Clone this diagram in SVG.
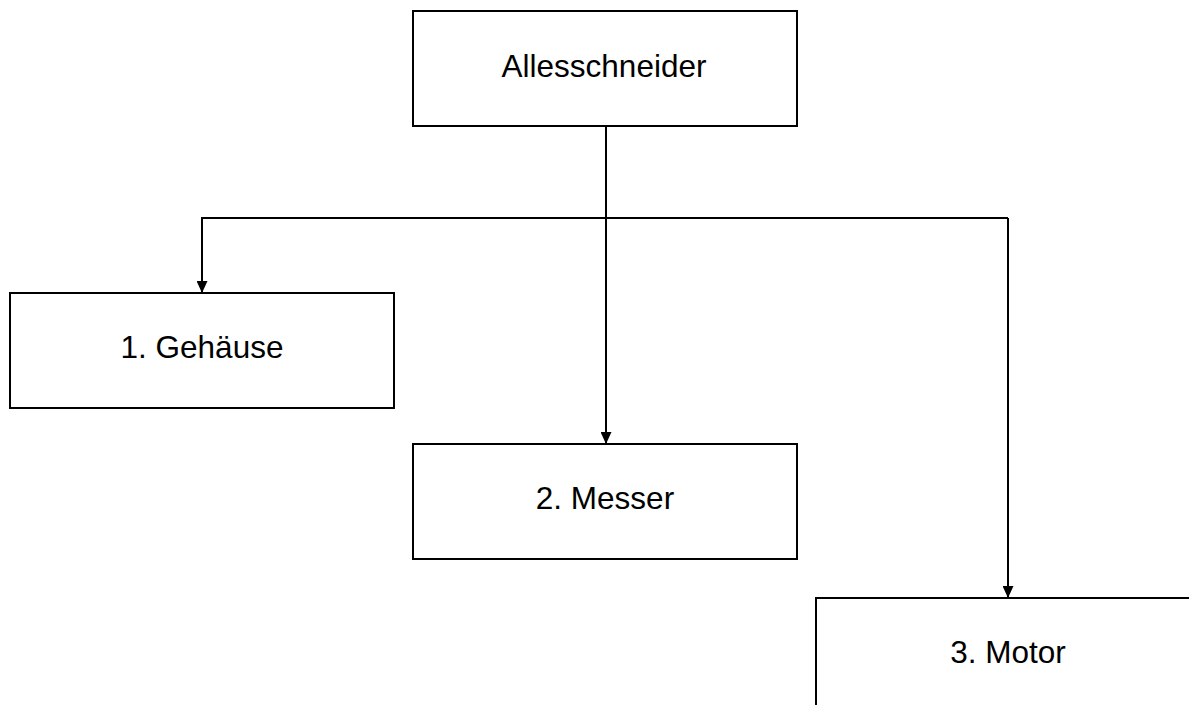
<svg xmlns="http://www.w3.org/2000/svg" width="1189" height="705" viewBox="0 0 1189 705">
<style>
.box{fill:#fff;stroke:#000;stroke-width:2}
.lbl{font-family:"Liberation Sans",Arial,sans-serif;font-size:31.5px;fill:#000;text-anchor:middle}
.con{fill:none;stroke:#000;stroke-width:2}
</style>
<defs>
<marker id="ah" markerWidth="12" markerHeight="11" refX="12" refY="5.5" orient="auto" markerUnits="userSpaceOnUse" viewBox="0 0 12 11">
<path d="M0,0 L12,5.5 L0,11 Z" fill="#000"/>
</marker>
</defs>
<rect width="1189" height="705" fill="#fff"/>
<g id="n-allesschneider">
<rect class="box" x="413" y="11" width="384" height="115"/>
<text class="lbl" x="604" y="77">Allesschneider</text>
</g>
<g id="n-gehaeuse">
<rect class="box" x="10" y="293" width="384" height="115"/>
<text class="lbl" x="202" y="358">1. Gehäuse</text>
</g>
<g id="n-messer">
<rect class="box" x="413" y="444" width="384" height="115"/>
<text class="lbl" x="605" y="509">2. Messer</text>
</g>
<g id="n-motor">
<rect class="box" x="816" y="598" width="400" height="140"/>
<text class="lbl" x="1008" y="663">3. Motor</text>
</g>
<g id="connectors">
<path class="con" d="M606,126 L606,444" marker-end="url(#ah)"/>
<path class="con" d="M1008,218 L202,218 L202,293" marker-end="url(#ah)"/>
<path class="con" d="M1008,218 L1008,598" marker-end="url(#ah)"/>
</g>
</svg>
